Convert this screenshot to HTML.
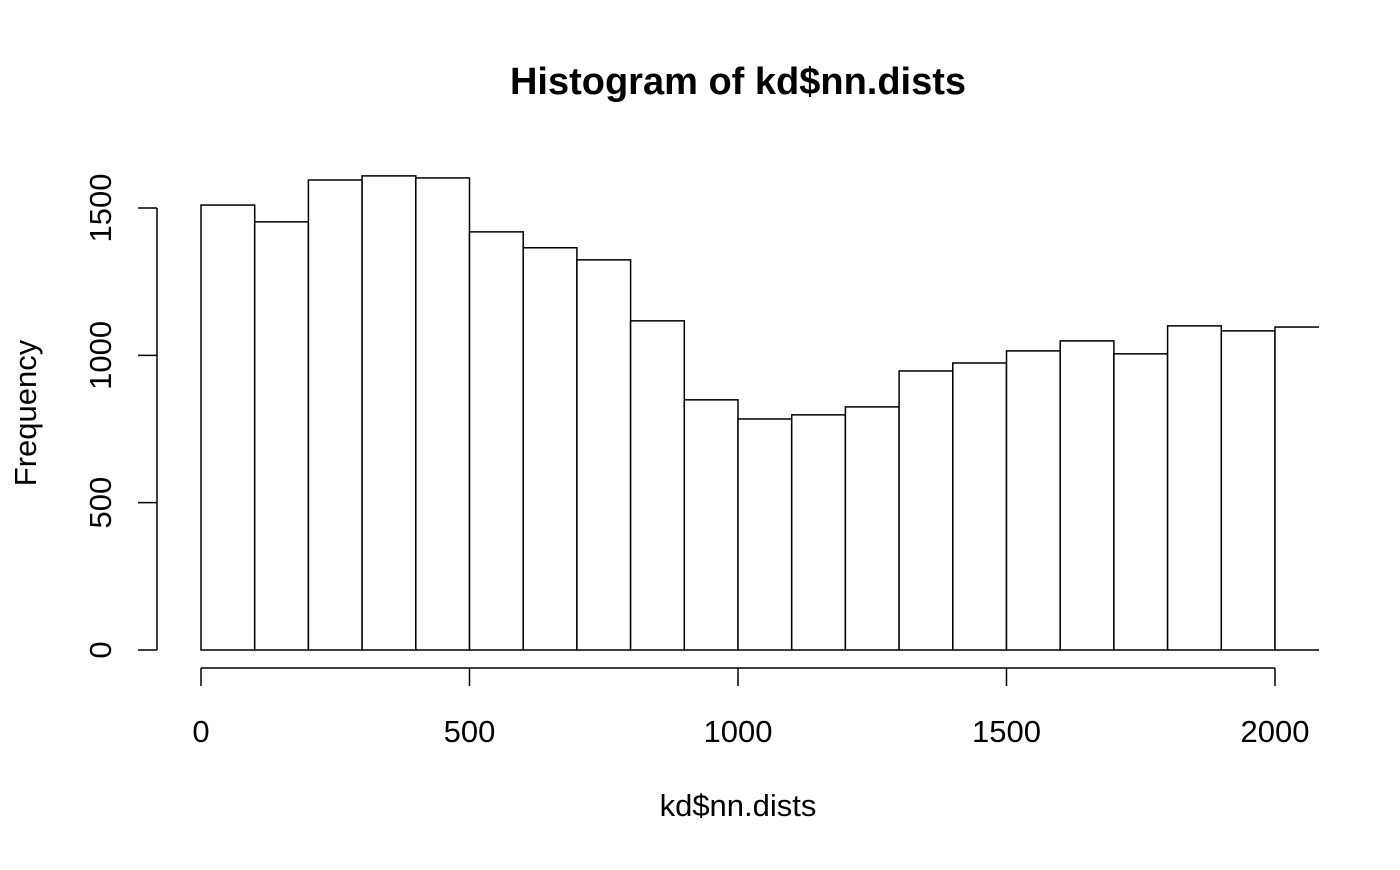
<!DOCTYPE html>
<html><head><meta charset="utf-8"><style>
body{margin:0;background:#fff}
svg text{font-family:"Liberation Sans",Arial,sans-serif;fill:#000}
</style></head><body>
<svg width="1400" height="865" viewBox="0 0 1400 865">
<defs><clipPath id="plotclip"><rect x="150" y="100" width="1169" height="560"/></clipPath></defs>
<text x="738" y="94" font-size="38" font-weight="bold" text-anchor="middle">Histogram of kd$nn.dists</text>
<text x="738" y="816" font-size="31" text-anchor="middle">kd$nn.dists</text>
<text transform="translate(36,413) rotate(-90)" font-size="31" text-anchor="middle">Frequency</text>
<g id="bars" clip-path="url(#plotclip)"></g>
<g id="xaxis"></g>
<g id="yaxis"></g>
</svg>
<script>
const binStarts=[0,100,200,300,400,500,600,700,800,900,1000,1100,1200,1300,1400,1500,1600,1700,1800,1900,2000];
const counts=[1510,1453,1595,1609,1602,1419,1365,1324,1117,849,784,798,825,947,974,1015,1049,1005,1100,1083,1096];
const binWidth=100;
const xTicks=[0,500,1000,1500,2000];
const yTicks=[0,500,1000,1500];
const NS="http://www.w3.org/2000/svg";
function xs(v){return 201+v*(1275-201)/2000;}
function ys(v){return 650-v*(650-208)/1500;}
function mk(t,a,p){const e=document.createElementNS(NS,t);for(const k in a)e.setAttribute(k,a[k]);p.appendChild(e);return e;}
const bars=document.getElementById('bars');
binStarts.forEach((b,i)=>{
  const x0=xs(b),x1=xs(b+binWidth),y=ys(counts[i]);
  const r=mk('rect',{x:x0,y:y,width:x1-x0,height:ys(0)-y,fill:'#fff',stroke:'#000','stroke-width':1.5},bars);
  
  
});
const xa=document.getElementById('xaxis');
mk('line',{x1:xs(xTicks[0]),x2:xs(xTicks[xTicks.length-1]),y1:668,y2:668,stroke:'#000','stroke-width':1.5},xa);
xTicks.forEach(t=>{
  mk('line',{x1:xs(t),x2:xs(t),y1:668,y2:686,stroke:'#000','stroke-width':1.5},xa);
  const tx=mk('text',{x:xs(t),y:742,'font-size':31,'text-anchor':'middle'},xa);
  tx.textContent=t;
  
  
});
const ya=document.getElementById('yaxis');
mk('line',{x1:157,x2:157,y1:ys(yTicks[0]),y2:ys(yTicks[yTicks.length-1]),stroke:'#000','stroke-width':1.5},ya);
yTicks.forEach(t=>{
  mk('line',{x1:138,x2:157,y1:ys(t),y2:ys(t),stroke:'#000','stroke-width':1.5},ya);
  const tx=mk('text',{transform:'translate(111,'+ys(t)+') rotate(-90)','font-size':31,'text-anchor':'middle'},ya);
  tx.textContent=t;
  
  
});
</script>
</body></html>
